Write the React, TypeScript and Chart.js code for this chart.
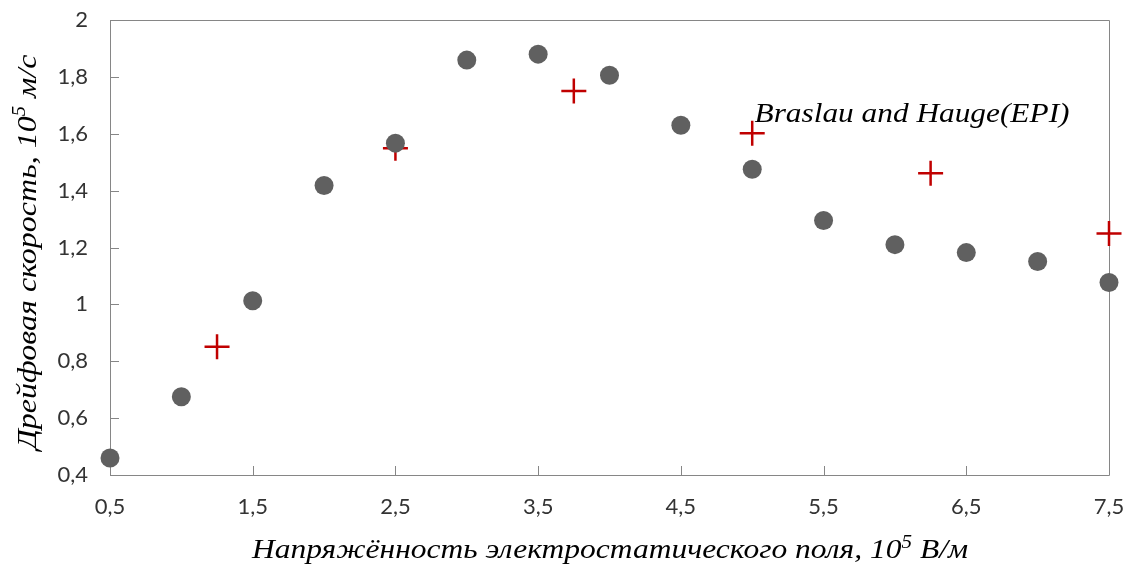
import React, { useEffect, useRef } from "react";
import { Chart, registerables } from "chart.js";

Chart.register(...registerables);

// Measured data (gray circles)
const fieldStrength = [0.5, 1, 1.5, 2, 2.5, 3, 3.5, 4, 4.5, 5, 5.5, 6, 6.5, 7, 7.5];
const driftVelocity = [0.46, 0.675, 1.013, 1.418, 1.567, 1.859, 1.88, 1.806, 1.63, 1.475, 1.295, 1.21, 1.182, 1.151, 1.077];

// Braslau and Hauge (EPI) data (red crosses)
const braslauField = [1.25, 2.5, 3.75, 5, 6.25, 7.5];
const braslauVelocity = [0.851, 1.549, 1.75, 1.602, 1.461, 1.249];

const xTickValues = [0.5, 1.5, 2.5, 3.5, 4.5, 5.5, 6.5, 7.5];
const yTickValues = [0.4, 0.6, 0.8, 1, 1.2, 1.4, 1.6, 1.8, 2];

const xTitleParts = [
  { text: "Напряжённость электростатического поля, 10", sup: false },
  { text: "5", sup: true },
  { text: " В/м", sup: false },
];
const yTitleParts = [
  { text: "Дрейфовая скорость, 10", sup: false },
  { text: "5", sup: true },
  { text: " м/с", sup: false },
];
const annotationText = "Braslau and Hauge(EPI)";

const fmt = (v: number) => String(Math.round(v * 10) / 10).replace(".", ",");

type Part = { text: string; sup: boolean };

function drawRich(
  ctx: CanvasRenderingContext2D,
  parts: Part[],
  cx: number,
  cy: number,
  targetWidth: number,
  size: number,
  rotate: number
) {
  const mainFont = `italic ${size}px "Liberation Serif", "Times New Roman", serif`;
  const supFont = `italic ${Math.round(size * 0.65)}px "Liberation Serif", "Times New Roman", serif`;
  ctx.save();
  let total = 0;
  const widths: number[] = [];
  for (const p of parts) {
    ctx.font = p.sup ? supFont : mainFont;
    const w = ctx.measureText(p.text).width;
    widths.push(w);
    total += w;
  }
  ctx.translate(cx, cy);
  ctx.rotate(rotate);
  ctx.scale(targetWidth / total, 1);
  ctx.fillStyle = "#000000";
  ctx.textBaseline = "alphabetic";
  ctx.textAlign = "left";
  let x = -total / 2;
  parts.forEach((p, i) => {
    ctx.font = p.sup ? supFont : mainFont;
    ctx.fillText(p.text, x, p.sup ? -size * 0.38 : 0);
    x += widths[i];
  });
  ctx.restore();
}

const framePlugin = {
  id: "framePlugin",
  beforeDatasetsDraw(chart: any) {
    const ctx = chart.ctx as CanvasRenderingContext2D;
    const { left, right, top, bottom } = chart.chartArea;
    const xs = chart.scales.x;
    const ys = chart.scales.y;
    ctx.save();
    ctx.strokeStyle = "#868686";
    ctx.lineWidth = 1;
    ctx.beginPath();
    ctx.rect(Math.round(left) + 0.5, Math.round(top) + 0.5, Math.round(right - left), Math.round(bottom - top));
    ctx.stroke();
    ctx.beginPath();
    for (const v of yTickValues) {
      const y = Math.round(ys.getPixelForValue(v)) + 0.5;
      ctx.moveTo(left, y);
      ctx.lineTo(left + 9, y);
    }
    for (const v of xTickValues) {
      const x = Math.round(xs.getPixelForValue(v)) + 0.5;
      ctx.moveTo(x, bottom);
      ctx.lineTo(x, bottom - 9);
    }
    ctx.stroke();
    ctx.restore();
  },
  afterDraw(chart: any) {
    const ctx = chart.ctx as CanvasRenderingContext2D;
    drawRich(ctx, xTitleParts, 610, 558, 716, 27, 0);
    drawRich(ctx, yTitleParts, 36, 252, 395, 28, -Math.PI / 2);
    drawRich(ctx, [{ text: annotationText, sup: false }], 912, 122, 315, 28, 0);
  },
};

export default function App() {
  const ref = useRef<HTMLCanvasElement | null>(null);
  useEffect(() => {
    if (!ref.current) return;
    const tickFont = { family: 'Lato, "Open Sans", sans-serif', size: 22 };
    const chart = new Chart(ref.current, {
      type: "scatter",
      data: {
        datasets: [
          {
            label: "data",
            data: fieldStrength.map((x, i) => ({ x, y: driftVelocity[i] })),
            pointStyle: "circle",
            pointRadius: 9.5,
            pointBackgroundColor: "#606060",
            pointBorderWidth: 0,
            borderWidth: 0,
            clip: false,
          } as any,
          {
            label: "Braslau and Hauge(EPI)",
            data: braslauField.map((x, i) => ({ x, y: braslauVelocity[i] })),
            pointStyle: "cross",
            pointRadius: 12.5,
            pointBorderColor: "#C00000",
            pointBorderWidth: 2.5,
            clip: false,
          } as any,
        ],
      },
      options: {
        animation: false,
        responsive: false,
        layout: { padding: { left: 0, right: 19, top: 20, bottom: 0 } },
        plugins: { legend: { display: false }, tooltip: { enabled: false } },
        scales: {
          x: {
            type: "linear",
            min: 0.5,
            max: 7.5,
            afterBuildTicks: (s: any) => {
              s.ticks = xTickValues.map((v) => ({ value: v }));
            },
            afterFit: (s: any) => {
              s.height = 91;
              s.paddingLeft = 0;
              s.paddingRight = 0;
            },
            grid: { display: false, drawTicks: false },
            border: { display: false },
            ticks: {
              padding: 19,
              color: "#333333",
              font: tickFont,
              maxRotation: 0,
              autoSkip: false,
              callback: (v: any) => fmt(Number(v)),
            },
          },
          y: {
            type: "linear",
            min: 0.4,
            max: 2,
            afterBuildTicks: (s: any) => {
              s.ticks = yTickValues.map((v) => ({ value: v }));
            },
            afterFit: (s: any) => {
              s.width = 110;
              s.paddingTop = 0;
              s.paddingBottom = 0;
            },
            grid: { display: false, drawTicks: false },
            border: { display: false },
            ticks: {
              padding: 22,
              color: "#333333",
              font: tickFont,
              autoSkip: false,
              callback: (v: any) => fmt(Number(v)),
            },
          },
        },
      } as any,
      plugins: [framePlugin],
    });
    return () => chart.destroy();
  }, []);
  return (
    <div style={{ position: "absolute", left: 0, top: 0, width: 1128, height: 566, background: "#fff" }}>
      <canvas ref={ref} width={1128} height={566} style={{ display: "block" }} />
    </div>
  );
}
